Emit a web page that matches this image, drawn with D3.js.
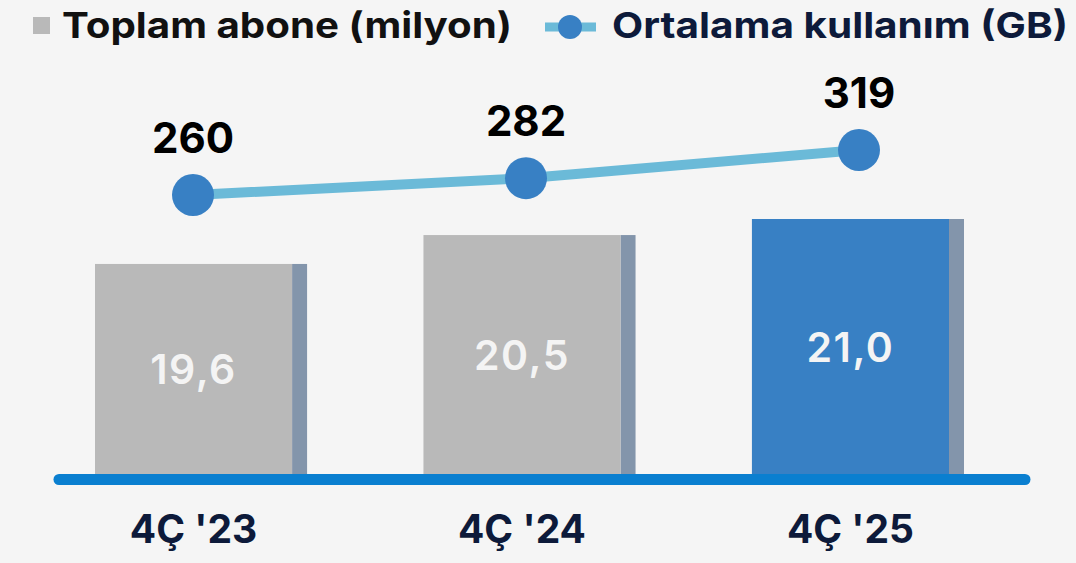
<!DOCTYPE html>
<html>
<head>
<meta charset="utf-8">
<script src="https://cdn.jsdelivr.net/npm/d3@7"></script>
<style>
  body { margin: 0; background: #f5f5f5; }
  svg { display: block; font-family: Inter, "Noto Sans", sans-serif; }
</style>
</head>
<body>
<div id="chart"></div>
<script>
// data
var quarters = ["4Ç '23", "4Ç '24", "4Ç '25"];
var subscribers = [19.6, 20.5, 21.0];          // Toplam abone (milyon)
var subscriberLabels = ["19,6", "20,5", "21,0"];
var usage = [260, 282, 319];                    // Ortalama kullanım (GB)
var legendNames = ["Toplam abone (milyon)", "Ortalama kullanım (GB)"];

var svgWidth = 1076, svgHeight = 563;

var svg = d3.select("#chart").append("svg")
  .attr("width", svgWidth)
  .attr("height", svgHeight);

svg.append("rect")
  .attr("width", svgWidth)
  .attr("height", svgHeight)
  .attr("fill", "#f5f5f5");

// scales
var xBar = d3.scaleBand()
  .domain(quarters)
  .range([95, 949])
  .paddingInner(0.4)
  .paddingOuter(0);

var xLine = d3.scalePoint()
  .domain(quarters)
  .range([193, 859]);

var yBar = d3.scaleLinear()
  .domain([13.06, 21.0])
  .range([474, 219]);

var yLine = d3.scaleLinear()
  .domain([260, 319])
  .range([195, 150]);

var barBase = yBar.domain()[0];

// bars: shadow strip on the right, then main face
var bars = svg.append("g").selectAll("g")
  .data(quarters)
  .enter()
  .append("g");

bars.append("rect")
  .attr("x", d => xBar(d) + xBar.bandwidth())
  .attr("width", 15)
  .attr("y", (d, i) => yBar(subscribers[i]))
  .attr("height", (d, i) => yBar(barBase) - yBar(subscribers[i]))
  .attr("fill", "#8395ab");

bars.append("rect")
  .attr("x", d => xBar(d))
  .attr("width", xBar.bandwidth())
  .attr("y", (d, i) => yBar(subscribers[i]))
  .attr("height", (d, i) => yBar(barBase) - yBar(subscribers[i]))
  .attr("fill", (d, i) => i === quarters.length - 1 ? "#3880c4" : "#b9b9b9");

// value label in the vertical middle of each bar
bars.append("text")
  .attr("x", d => xBar(d) + xBar.bandwidth() / 2)
  .attr("y", (d, i) => (yBar(subscribers[i]) + yBar(barBase)) / 2 + 15)
  .attr("text-anchor", "middle")
  .attr("fill", "#f4f4f4")
  .style("font-size", "41px")
  .style("font-weight", 600)
  .style("letter-spacing", "1.5px")
  .text((d, i) => subscriberLabels[i]);

// baseline
svg.append("line")
  .attr("x1", 59)
  .attr("x2", 1025)
  .attr("y1", 479.5)
  .attr("y2", 479.5)
  .attr("stroke", "#0a7fd0")
  .attr("stroke-width", 11)
  .attr("stroke-linecap", "round");

// category labels
svg.append("g").selectAll("text")
  .data(quarters)
  .enter()
  .append("text")
  .attr("x", d => xBar(d) + xBar.bandwidth() / 2)
  .attr("y", 543)
  .attr("text-anchor", "middle")
  .attr("fill", "#0d1a3a")
  .style("font-size", "39px")
  .style("font-weight", 700)
  .text(d => d);

// usage line
var line = d3.line()
  .x((d, i) => xLine(quarters[i]))
  .y(d => yLine(d));

svg.append("path")
  .datum(usage)
  .attr("d", line)
  .attr("fill", "none")
  .attr("stroke", "#6bbad8")
  .attr("stroke-width", 10);

svg.append("g").selectAll("circle")
  .data(usage)
  .enter()
  .append("circle")
  .attr("cx", (d, i) => xLine(quarters[i]))
  .attr("cy", d => yLine(d))
  .attr("r", 21)
  .attr("fill", "#3880c4");

svg.append("g").selectAll("text")
  .data(usage)
  .enter()
  .append("text")
  .attr("x", (d, i) => xLine(quarters[i]))
  .attr("y", d => yLine(d) - 42)
  .attr("text-anchor", "middle")
  .attr("fill", "#000")
  .style("font-size", "42px")
  .style("font-weight", 700)
  .text(d => d);

// legend
var legend = svg.append("g");

legend.append("rect")
  .attr("x", 33)
  .attr("y", 17)
  .attr("width", 17)
  .attr("height", 17)
  .attr("fill", "#b9b9b9");

legend.append("text")
  .attr("x", 62)
  .attr("y", 38)
  .attr("fill", "#111")
  .attr("textLength", 450)
  .attr("lengthAdjust", "spacingAndGlyphs")
  .style("font-size", "36px")
  .style("font-weight", 700)
  .text(legendNames[0]);

legend.append("line")
  .attr("x1", 545)
  .attr("x2", 596)
  .attr("y1", 27)
  .attr("y2", 27)
  .attr("stroke", "#6bbad8")
  .attr("stroke-width", 9);

legend.append("circle")
  .attr("cx", 570)
  .attr("cy", 27)
  .attr("r", 12)
  .attr("fill", "#3880c4");

legend.append("text")
  .attr("x", 612)
  .attr("y", 38)
  .attr("fill", "#0d1a3a")
  .attr("textLength", 456)
  .attr("lengthAdjust", "spacingAndGlyphs")
  .style("font-size", "36px")
  .style("font-weight", 700)
  .text(legendNames[1]);
</script>
</body>
</html>
